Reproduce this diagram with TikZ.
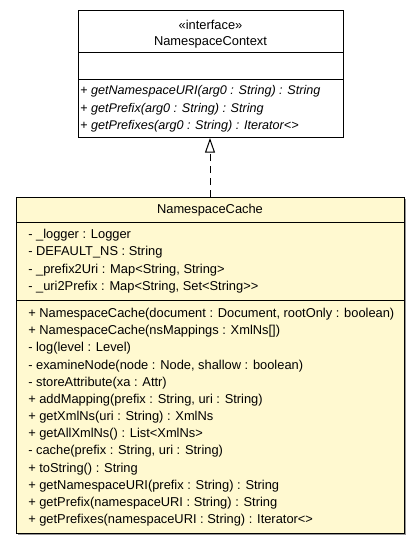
\documentclass[tikz,border=0pt]{standalone}
\usepackage{fontspec}
\setmainfont{Liberation Sans}
\usetikzlibrary{arrows.meta}
\definecolor{classfill}{RGB}{255,249,208}
\definecolor{shadowgray}{RGB}{150,150,150}
\tikzset{
  umlbox/.style={draw=black, line width=0.75pt, rectangle, inner sep=0pt, anchor=north west},
  sep/.style={line width=0.75pt},
  member/.style={anchor=base west, inner sep=0pt, font=\fontsize{9.65pt}{11pt}\selectfont},
  imember/.style={anchor=base west, inner sep=0pt, font=\fontsize{9.45pt}{11pt}\selectfont},
  title/.style={anchor=base, inner sep=0pt, font=\fontsize{9.65pt}{11pt}\selectfont},
  realize/.style={draw=black, line width=0.75pt, dash pattern=on 5.5pt off 3.5pt,
    -{Triangle[open, fill=white, length=11pt, width=7.5pt]}}
}
\begin{document}
\begin{tikzpicture}[x=0.75pt, y=-0.75pt]
\useasboundingbox (0,0) rectangle (420,544);
% top interface box
\node[umlbox, fill=white, minimum width=198.75pt, minimum height=95.25pt] (ctx) at (78,10) {};
\draw[sep] (78,52) -- (343,52);
\draw[sep] (78,79) -- (343,79);
\node[title] (ctxst) at (210.5,29.5) {«interface»};
\node[title] (ctxname) at (210.5,45.5) {NamespaceContext};
\node[imember] (m1) at (80,94.5) {+ \textit{getNamespaceURI(arg0 : String) : String}};
\node[imember] (m2) at (80,112) {+ \textit{getPrefix(arg0 : String) : String}};
\node[imember] (m3) at (80,129.5) {+ \textit{getPrefixes(arg0 : String) : Iterator<>}};
% bottom class box
\draw[shadowgray, line width=0.75pt] (18,534.5) -- (405.5,534.5) -- (405.5,199);
\node[umlbox, fill=classfill, minimum width=291pt, minimum height=252pt] (cache) at (16,197) {};
\draw[sep] (16,222) -- (404,222);
\draw[sep] (16,300) -- (404,300);
\node[title] (cachename) at (210,213.5) {NamespaceCache};
\foreach \t [count=\i from 0] in {
  {- \_logger : Logger},
  {- DEFAULT\_NS : String},
  {- \_prefix2Uri : Map<String, String>},
  {- \_uri2Prefix : Map<String, Set<String>{}>}} {
  \node[member] (a\i) at (28,238.5+17.4*\i) {\t};
}
\foreach \t [count=\i from 0] in {
  {+ NamespaceCache(document : Document, rootOnly : boolean)},
  {+ NamespaceCache(nsMappings : XmlNs[])},
  {- log(level : Level)},
  {- examineNode(node : Node, shallow : boolean)},
  {- storeAttribute(xa : Attr)},
  {+ addMapping(prefix : String, uri : String)},
  {+ getXmlNs(uri : String) : XmlNs},
  {+ getAllXmlNs() : List<XmlNs>},
  {- cache(prefix : String, uri : String)},
  {+ toString() : String},
  {+ getNamespaceURI(prefix : String) : String},
  {+ getPrefix(namespaceURI : String) : String},
  {+ getPrefixes(namespaceURI : String) : Iterator<>}} {
  \node[member] (o\i) at (28,317.5+17.17*\i) {\t};
}
% realization
\draw[realize] (cache.north -| 210,0) -- (ctx.south -| 210,0);
\end{tikzpicture}
\end{document}
